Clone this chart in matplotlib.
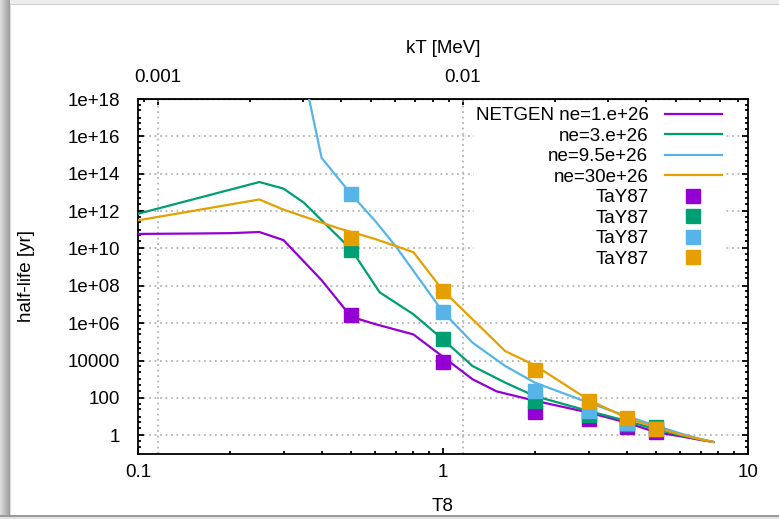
# Vida media frente a la temperatura T8 para varias densidades electronicas
# con los puntos de TaY87 superpuestos (estilo gnuplot)

import numpy as np
import matplotlib.pyplot as plt
from matplotlib.patches import Rectangle
from matplotlib.ticker import LogLocator, NullFormatter

# fuente parecida a Arial
plt.rcParams["font.family"] = ["Liberation Sans", "DejaVu Sans"]
plt.rcParams["font.size"] = 13.5

# conversion T8 -> kT [MeV]
Kt_por_T8 = 8.617e-3

# curva NETGEN ne=1.e+26
T8_ne1 = [0.1, 0.15, 0.2, 0.25, 0.3, 0.4, 0.5, 0.6, 0.8, 1.0, 1.25, 1.5, 2.0, 3.0, 4.0, 5.0, 6.0, 7.0, 7.7]
Vida_ne1 = [6.0e10, 6.3e10, 6.6e10, 7.6e10, 2.8e10, 2.0e8, 2.2e6, 8.9e5, 2.5e5, 1.6e4, 1000, 224, 71, 16.6, 4.8, 1.45, 0.89, 0.56, 0.44]

# curva ne=3.e+26
T8_ne3 = [0.1, 0.25, 0.3, 0.35, 0.5, 0.62, 0.8, 1.0, 1.25, 1.6, 2.0, 3.0, 4.0, 5.0, 6.0, 7.0, 7.7]
Vida_ne3 = [7.2e11, 3.6e13, 1.6e13, 2.8e12, 8.9e9, 4.5e7, 3.0e6, 1.35e5, 5100, 660, 126, 20, 5.9, 2.1, 1.0, 0.6, 0.44]

# curva ne=9.5e+26
T8_ne95 = [0.35, 0.4, 0.5, 0.6, 0.7, 1.0, 1.25, 1.6, 2.0, 3.0, 4.0, 5.0, 6.0, 7.0, 7.7]
Vida_ne95 = [2.0e19, 7.0e14, 8.0e12, 2.9e11, 1.3e10, 4.0e6, 9.1e4, 5100, 660, 56, 10.7, 3.2, 1.26, 0.63, 0.44]

# curva ne=30e+26
T8_ne30 = [0.1, 0.25, 0.3, 0.45, 0.6, 0.8, 1.0, 1.6, 2.0, 3.0, 4.0, 5.0, 6.0, 7.0, 7.7]
Vida_ne30 = [3.2e11, 4.2e12, 1.2e12, 1.26e11, 3.2e10, 6.3e9, 5.6e7, 3.2e4, 5600, 79, 8.7, 2.5, 1.1, 0.6, 0.44]

# puntos TaY87
T8_tay = [0.5, 1.0, 2.0, 3.0, 4.0, 5.0]
Tay_ne1 = [2.6e6, 7.9e3, 18, 7.6, 2.8, 1.6]
Tay_ne3 = [8.5e9, 1.35e5, 71, 12.6, 4.0, 2.8]
Tay_ne95 = [8.5e12, 4.0e6, 234, 20, 4.6, 2.2]
Tay_ne30 = [3.5e10, 5.6e7, 3100, 66, 8.7, 2.1]

# etiquetas
Etiquetas_lineas = ["NETGEN ne=1.e+26", "ne=3.e+26", "ne=9.5e+26", "ne=30e+26"]
Etiqueta_tay = "TaY87"

# colores de gnuplot
Colores = ["#9400d3", "#009e73", "#56b4e9", "#e69f00"]

# marcas de los ejes
Ticks_x = [0.1, 1, 10]
Ticks_x_texto = ["0.1", "1", "10"]
Ticks_y = [1, 1e2, 1e4, 1e6, 1e8, 1e10, 1e12, 1e14, 1e16, 1e18]
Ticks_y_texto = ["1", "100", "10000", "1e+06", "1e+08", "1e+10", "1e+12", "1e+14", "1e+16", "1e+18"]
Ticks_kt = [0.001, 0.01]
Ticks_kt_texto = ["0.001", "0.01"]

# tamano de la imagen en pixeles
Ancho_px = 779
Alto_px = 519

fig = plt.figure(
    figsize=(Ancho_px / 100, Alto_px / 100),
    dpi=100
)
fig.patch.set_facecolor("white")


# rectangulo en pixeles (marco de la captura)
def Rect_px(x0, y0, x1, y1, color):
    fig.add_artist(Rectangle(
        (x0 / Ancho_px, 1 - y1 / Alto_px),
        (x1 - x0) / Ancho_px,
        (y1 - y0) / Alto_px,
        transform=fig.transFigure,
        facecolor=color,
        edgecolor="none",
        zorder=-10
    ))


# sombra del marco
Rect_px(0, 0, Ancho_px, 4, "#ededed")
Rect_px(0, 4, Ancho_px, 5, "#cfcfcf")
Grises = np.linspace(0.86, 0.62, 10)
for i, g in enumerate(Grises):
    Rect_px(i, 0, i + 1, Alto_px, str(g))
Rect_px(10, 5, 11, 515, "#dddddd")
Rect_px(0, 515, Ancho_px, 517, "#9a9a9a")
Rect_px(0, 517, Ancho_px, Alto_px, "#e2e2e2")

# ejes principales
ax = fig.add_axes([
    138 / Ancho_px,
    1 - 454 / Alto_px,
    610 / Ancho_px,
    355 / Alto_px
])

ax.set_xscale("log")
ax.set_yscale("log")
ax.set_xlim(0.1, 10)
ax.set_ylim(0.1, 1e18)

# lineas NETGEN
Curvas = [
    (T8_ne1, Vida_ne1),
    (T8_ne3, Vida_ne3),
    (T8_ne95, Vida_ne95),
    (T8_ne30, Vida_ne30),
]
for (Tx, Vy), Color, Etiqueta in zip(Curvas, Colores, Etiquetas_lineas):
    ax.plot(
        Tx,
        Vy,
        color=Color,
        lw=1.6,
        label=Etiqueta,
        zorder=3
    )

# puntos TaY87
Puntos = [Tay_ne1, Tay_ne3, Tay_ne95, Tay_ne30]
for Vy, Color in zip(Puntos, Colores):
    ax.plot(
        T8_tay,
        Vy,
        ls="none",
        marker="s",
        ms=9.5,
        color=Color,
        mec=Color,
        label=Etiqueta_tay,
        zorder=4
    )

# cuadricula horizontal punteada
ax.grid(
    axis="y",
    which="major",
    color="#a8a8a8",
    lw=1.1,
    ls=(0, (1.2, 2.4))
)

# lineas verticales en los ticks de kT
for Kt in Ticks_kt:
    ax.axvline(
        Kt / Kt_por_T8,
        color="#a8a8a8",
        lw=1.1,
        ls=(0, (1.2, 2.4)),
        zorder=1
    )

# ticks
ax.set_xticks(Ticks_x, Ticks_x_texto)
ax.xaxis.set_minor_locator(LogLocator(base=10, subs=np.arange(2, 10), numticks=20))
ax.xaxis.set_minor_formatter(NullFormatter())
ax.set_yticks(Ticks_y, Ticks_y_texto)
ax.yaxis.set_minor_locator(LogLocator(base=10, subs=(1.0, 2.5, 5.0), numticks=40))
ax.yaxis.set_minor_formatter(NullFormatter())

ax.tick_params(
    which="both",
    direction="in",
    top=False,
    right=True,
    width=1.3,
    colors="black"
)
ax.tick_params(axis="x", which="major", length=4, pad=7)
ax.tick_params(axis="y", which="major", length=4, pad=13)
ax.tick_params(which="minor", length=2.5)

for Borde in ax.spines.values():
    Borde.set_linewidth(1.3)

# eje superior kT [MeV]
Eje_kt = ax.secondary_xaxis(
    "top",
    functions=(lambda t: t * Kt_por_T8, lambda k: k / Kt_por_T8)
)
Eje_kt.set_xticks(Ticks_kt, Ticks_kt_texto)
Eje_kt.xaxis.set_minor_locator(LogLocator(base=10, subs=np.arange(2, 10), numticks=20))
Eje_kt.xaxis.set_minor_formatter(NullFormatter())
Eje_kt.tick_params(which="both", direction="in", width=1.3)
Eje_kt.tick_params(which="major", length=4, pad=9)
Eje_kt.tick_params(which="minor", length=2.5)
Eje_kt.set_xlabel(
    "kT [MeV]",
    labelpad=12
)

# etiquetas de ejes
ax.set_xlabel("T8")
ax.xaxis.set_label_coords(0.5, -0.125)
ax.set_ylabel("half-life [yr]")
ax.yaxis.set_label_coords(-0.169, 0.5)

# leyenda estilo gnuplot (texto a la izquierda)
Leyenda = ax.legend(
    loc="upper right",
    bbox_to_anchor=(0.975, 1.0085),
    markerfirst=False,
    frameon=True,
    fancybox=False,
    framealpha=1,
    edgecolor="none",
    facecolor="white",
    handlelength=3.0,
    handletextpad=0.9,
    labelspacing=0.18,
    borderpad=0.1,
    fontsize=13.5
)
Leyenda.set_zorder(5)

fig.savefig("out.png", dpi=100)
